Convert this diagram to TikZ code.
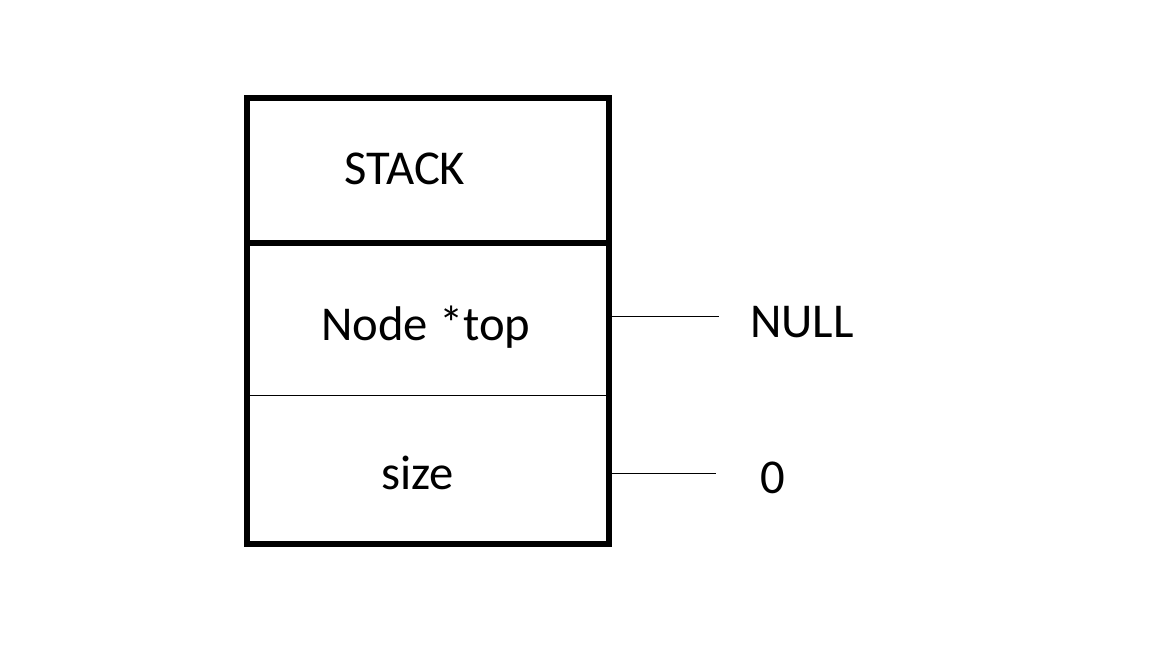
\documentclass[tikz,border=0pt]{standalone}
\usepackage{fontspec}
\setmainfont{Carlito}
\usepackage{tikz}

\begin{document}
\begin{tikzpicture}[x=0.75pt,y=-0.75pt,
  cell/.style={draw,line width=0.75pt,inner sep=0pt,outer sep=0pt,minimum width=271.5pt},
  thickline/.style={line width=3.9pt},
  thinline/.style={line width=0.75pt},
  lbl/.style={inner sep=0pt,anchor=base west,font=\fontsize{36.5}{44}\selectfont}]
  \useasboundingbox (0,0) rectangle (1152,648);
  % the three parts of the struct
  \node[cell,minimum height=108.75pt] (head)     at (428,170.5) {};
  \node[cell,minimum height=114pt]    (topcell)  at (428,319)   {};
  \node[cell,minimum height=111.75pt] (sizecell) at (428,469.5) {};
  \draw[thickline] (head.north west) rectangle (sizecell.south east);
  \draw[thickline] (head.south west) -- (head.south east);
  % texts
  \node[lbl] (stack)  at (344,185) {STACK};
  \node[lbl] (toplbl) at (321,340) {Node *top};
  \node[lbl] (sizelbl) at (381,489) {size};
  \node[lbl] (null)   at (750,338) {NULL};
  \node[lbl] (zero)   at (760,493) {0};
  % values
  \coordinate (nullend) at (719,317);
  \coordinate (zeroend) at (716,473);
  \draw[thinline] (topcell.east |- nullend) -- (nullend);
  \draw[thinline] (sizecell.east |- zeroend) -- (zeroend);
\end{tikzpicture}
\end{document}
